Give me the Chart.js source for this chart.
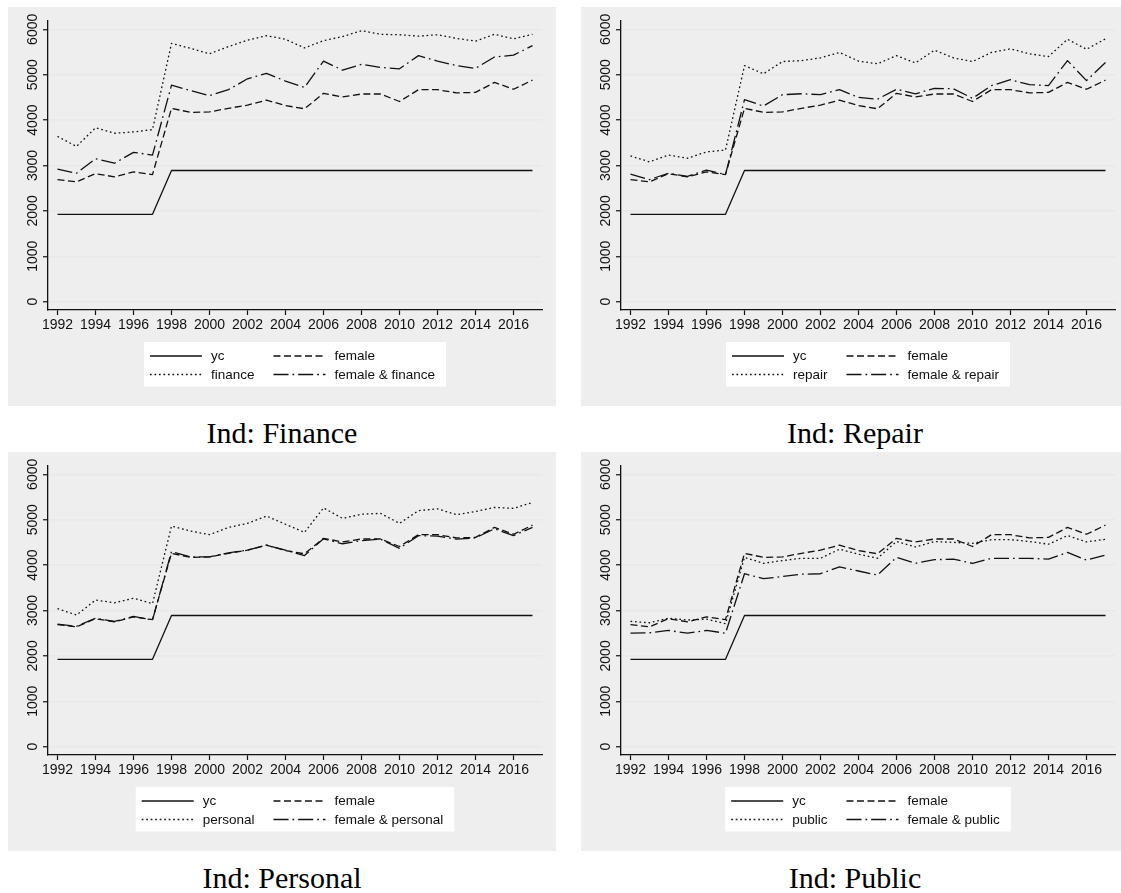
<!DOCTYPE html>
<html>
<head>
<meta charset="utf-8">
<script src="https://cdn.jsdelivr.net/npm/chart.js@4.4.1/dist/chart.umd.min.js"></script>
<style>
html, body { margin: 0; padding: 0; background: #ffffff; }
body { width: 1121px; height: 893px; overflow: hidden; position: relative; }
.panel { position: absolute; width: 548px; height: 399px; background: #eeeeee; }
.panel canvas { display: block; width: 548px; height: 399px; }
.title { position: absolute; width: 548px; text-align: center; font-family: "Liberation Serif", "DejaVu Serif", serif; font-size: 30px; line-height: 30px; color: #000; white-space: nowrap; }
</style>
</head>
<body>
<div class="panel" style="left:8px;top:7px"><canvas id="c1" width="548" height="399"></canvas></div>
<div class="panel" style="left:581px;top:7px"><canvas id="c2" width="548" height="399"></canvas></div>
<div class="panel" style="left:8px;top:452px"><canvas id="c3" width="548" height="399"></canvas></div>
<div class="panel" style="left:581px;top:452px"><canvas id="c4" width="548" height="399"></canvas></div>
<div class="title" style="left:8px;top:418px">Ind: Finance</div>
<div class="title" style="left:581px;top:418px">Ind: Repair</div>
<div class="title" style="left:8px;top:863px">Ind: Personal</div>
<div class="title" style="left:581px;top:863px">Ind: Public</div>
<script>
// ---------- data ----------
const years = [1992,1993,1994,1995,1996,1997,1998,1999,2000,2001,2002,2003,2004,2005,2006,2007,2008,2009,2010,2011,2012,2013,2014,2015,2016,2017];
const xTicks = [1992,1994,1996,1998,2000,2002,2004,2006,2008,2010,2012,2014,2016];
const yTicks = [0,1000,2000,3000,4000,5000,6000];

const yc = [1925,1925,1925,1925,1925,1925,2890,2890,2890,2890,2890,2890,2890,2890,2890,2890,2890,2890,2890,2890,2890,2890,2890,2890,2890,2890];
const female = [2690,2640,2820,2750,2860,2800,4260,4170,4180,4260,4330,4440,4320,4250,4590,4510,4575,4575,4410,4670,4670,4600,4610,4830,4680,4880];

const finance = [3640,3420,3830,3710,3740,3790,5690,5580,5460,5620,5760,5860,5780,5590,5750,5840,5970,5890,5880,5850,5880,5800,5740,5890,5790,5890];
const femaleFinance = [2920,2830,3150,3050,3290,3230,4770,4650,4540,4670,4910,5030,4860,4720,5300,5100,5230,5160,5130,5420,5300,5200,5140,5390,5430,5640];

const repair = [3210,3080,3230,3160,3300,3340,5200,5020,5290,5310,5370,5490,5300,5240,5420,5260,5540,5370,5290,5490,5570,5460,5400,5780,5560,5790];
const femaleRepair = [2810,2690,2830,2760,2900,2800,4450,4310,4560,4580,4560,4670,4500,4460,4680,4580,4700,4690,4480,4760,4890,4780,4760,5310,4870,5270];

const personal = [3040,2900,3230,3170,3270,3150,4860,4750,4670,4830,4920,5080,4900,4720,5260,5030,5120,5140,4920,5200,5240,5110,5180,5270,5250,5380];
const femalePersonal = [2700,2650,2830,2760,2870,2790,4300,4180,4180,4270,4330,4440,4330,4210,4580,4470,4540,4570,4370,4650,4640,4570,4600,4800,4650,4830];

const publicSector = [2760,2730,2830,2790,2810,2710,4170,4040,4100,4150,4150,4350,4240,4150,4520,4400,4520,4500,4480,4560,4560,4520,4460,4650,4510,4570];
const femalePublic = [2500,2510,2560,2500,2560,2500,3810,3700,3750,3800,3810,3960,3870,3780,4170,4040,4120,4130,4040,4150,4150,4150,4130,4280,4110,4220];

const panels = [
  { id: 'c1', name: 'finance',  ind: finance,      fem: femaleFinance },
  { id: 'c2', name: 'repair',   ind: repair,       fem: femaleRepair },
  { id: 'c3', name: 'personal', ind: personal,     fem: femalePersonal },
  { id: 'c4', name: 'public',   ind: publicSector, fem: femalePublic }
];

// ---------- styles ----------
const INK = '#111111';
const LW = 1.3;
const DASH_SOLID = [];
const DASH_DASH = [7, 3.5];
const DASH_DOT = [1.7, 2.8];
const DASH_LDD = [15, 4, 1.7, 4];
const SANS = '"Liberation Sans", Arial, Helvetica, sans-serif';

function pts(vals) { return years.map((yr, i) => ({ x: yr, y: vals[i] })); }

const stataPlugin = {
  id: 'stataDecor',
  afterDraw(chart) {
    const { ctx, chartArea, scales } = chart;
    const ys = scales.y;
    ctx.save();
    ctx.fillStyle = INK;
    ctx.font = '14px ' + SANS;
    ctx.textAlign = 'center';
    ctx.textBaseline = 'middle';
    yTicks.forEach(v => {
      const py = ys.getPixelForValue(v);
      ctx.save();
      ctx.translate(chartArea.left - 15, py);
      ctx.rotate(-Math.PI / 2);
      ctx.fillText(String(v), 0, 0);
      ctx.restore();
    });
    const ds = chart.data.datasets;
    const col1 = [ds[0], ds[2]];
    const col2 = [ds[1], ds[3]];
    ctx.font = '13.5px ' + SANS;
    const w1 = Math.max(...col1.map(d => ctx.measureText(d.label).width));
    const w2 = Math.max(...col2.map(d => ctx.measureText(d.label).width));
    const padL = 6, sample = 52, gapT = 9, colGap = 19, padR = 11;
    const total = padL + sample + gapT + w1 + colGap + sample + gapT + w2 + padR;
    const cx = (chartArea.left + chartArea.right) / 2;
    const bx = cx - total / 2;
    const by = chartArea.bottom + 32;
    const bh = 44.5;
    ctx.fillStyle = '#ffffff';
    ctx.fillRect(bx, by, total, bh);
    const rowsY = [by + 14, by + 32.5];
    const colX = [bx + padL, bx + padL + sample + gapT + w1 + colGap];
    [col1, col2].forEach((col, ci) => {
      col.forEach((d, ri) => {
        const x0 = colX[ci], y0 = rowsY[ri];
        ctx.save();
        ctx.strokeStyle = d.borderColor;
        ctx.lineWidth = d.borderWidth;
        ctx.setLineDash(d.borderDash || []);
        ctx.beginPath();
        ctx.moveTo(x0, y0);
        ctx.lineTo(x0 + sample, y0);
        ctx.stroke();
        ctx.restore();
        ctx.fillStyle = INK;
        ctx.textAlign = 'left';
        ctx.textBaseline = 'middle';
        ctx.fillText(d.label, x0 + sample + gapT, y0 + 0.5);
      });
    });
    ctx.restore();
  }
};

function makeChart(p) {
  const mk = (label, vals, dash) => ({
    label, data: pts(vals), borderColor: INK, borderWidth: LW, borderDash: dash,
    pointRadius: 0, pointHoverRadius: 0, fill: false, tension: 0,
    borderCapStyle: 'butt', borderJoinStyle: 'round'
  });
  new Chart(document.getElementById(p.id), {
    type: 'line',
    data: {
      datasets: [
        mk('yc', yc, DASH_SOLID),
        mk('female', female, DASH_DASH),
        mk(p.name, p.ind, DASH_DOT),
        mk('female & ' + p.name, p.fem, DASH_LDD)
      ]
    },
    options: {
      responsive: false,
      animation: false,
      events: [],
      layout: { padding: { left: 0, top: 14, right: 14, bottom: 0 } },
      plugins: { legend: { display: false }, tooltip: { enabled: false }, title: { display: false } },
      scales: {
        x: {
          type: 'linear', min: 1991.5, max: 2017.5,
          afterBuildTicks: s => { s.ticks = xTicks.map(v => ({ value: v })); },
          afterFit: s => { s.height = 96; },
          grid: { drawOnChartArea: false, drawTicks: true, tickLength: 5, tickColor: INK, tickWidth: 1.2 },
          border: { display: true, color: INK, width: 1.3 },
          ticks: { color: INK, font: { family: SANS, size: 14 }, padding: 2, maxRotation: 0, minRotation: 0, autoSkip: false,
                   callback: v => String(v) }
        },
        y: {
          type: 'linear', min: -183, max: 6183,
          afterBuildTicks: s => { s.ticks = yTicks.map(v => ({ value: v })); },
          afterFit: s => { s.width = 40; },
          grid: { color: '#e8e8e8', lineWidth: 1.5, drawTicks: true, tickLength: 5, tickColor: INK, tickWidth: 1.2 },
          border: { display: true, color: INK, width: 1.3 },
          ticks: { display: false }
        }
      }
    },
    plugins: [stataPlugin]
  });
}

panels.forEach(makeChart);
</script>
</body>
</html>
